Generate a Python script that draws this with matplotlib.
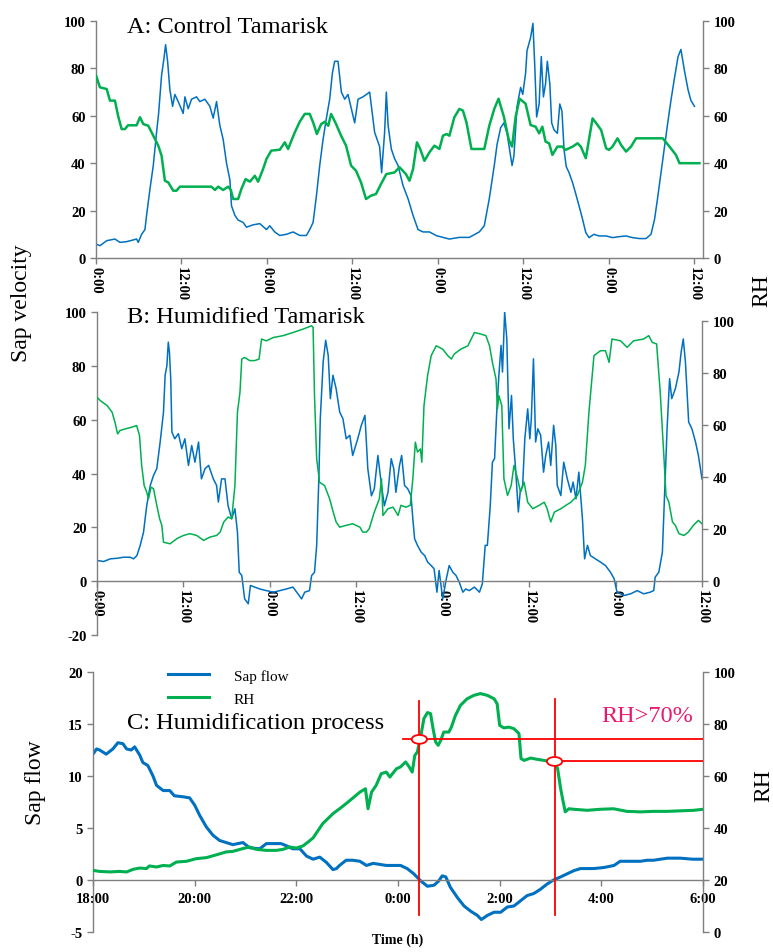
import matplotlib
matplotlib.use('Agg')
import matplotlib.pyplot as plt
from matplotlib.patches import Ellipse
import numpy as np

plt.rcParams['font.family'] = ['Liberation Serif', 'DejaVu Serif']
plt.rcParams['font.weight'] = 'bold'
plt.rcParams['axes.unicode_minus'] = False

# Panel A: control tamarisk, hours from the first midnight
a_sap_t = [0.0, 0.56, 1.5, 2.66, 3.36, 4.3, 5.7, 5.93, 6.4, 6.87, 7.1, 7.57, 8.04, 8.5, 8.79, 9.2, 9.53, 9.77,
           10.05, 10.37, 10.75, 11.07, 11.54, 12.24, 12.48, 12.94, 13.41, 14.11, 14.58, 15.28, 15.98, 16.45,
           16.92, 17.38, 17.85, 18.32, 18.79, 19.02, 19.49, 19.95, 20.65, 21.12, 22.06, 22.99, 23.93, 24.39,
           25.09, 25.79, 26.73, 27.66, 28.6, 29.53, 30.0, 30.47, 30.93, 31.4, 31.87, 32.34, 32.8, 33.18, 33.5,
           33.97, 34.44, 34.91, 35.37, 35.84, 36.31, 36.78, 37.48, 38.41, 39.11, 39.81, 40.09, 40.51, 40.75,
           41.0, 41.45, 41.9, 42.4, 43.1, 43.8, 44.5, 45.2, 45.9, 46.8, 47.8, 48.7, 49.6, 51.0, 52.4, 53.8,
           54.5, 55.2, 55.9, 56.3, 56.8, 57.25, 57.7, 58.2, 58.4, 58.66, 59.1, 59.6, 59.9, 60.3, 60.5, 61.0,
           61.33, 61.6, 61.85, 62.2, 62.5, 62.8, 63.1, 63.35, 63.7, 63.96, 64.3, 64.76, 65.1, 65.4, 65.7, 66.0,
           66.4, 66.9, 67.3, 67.8, 68.3, 68.75, 69.2, 69.9, 70.6, 71.6, 72.5, 73.4, 74.4, 75.3, 76.3, 77.2,
           77.9, 78.4, 78.8, 79.3, 79.8, 80.25, 80.7, 81.2, 81.7, 82.1, 82.6, 83.1, 83.5, 84.0]
a_sap = [5.9, 5.2, 7.3, 8, 6.6, 6.9, 8, 6.6, 10, 12, 18, 29, 39, 53, 61, 77, 84, 90,
         83, 71, 64, 69, 66, 61, 68, 63, 67, 68, 66, 67, 64, 59,
         66, 56, 50, 40, 33, 22, 18, 16, 15, 13, 14, 14.5, 12, 13.6,
         11, 9.5, 10, 11, 9.5, 9.5, 12, 15, 26, 39, 50, 59, 67, 78, 83,
         83, 70, 67, 69, 63, 57, 67, 68, 70, 53, 47, 36, 53, 70,
         56, 46, 42, 39, 30.5, 25, 18, 12, 11, 11, 9.4, 8.7, 8, 8.7, 8.7, 11,
         13.6, 25, 39, 48, 55, 57, 52.6, 43, 39, 43, 64, 72, 69, 78, 87.5, 93,
         99, 80, 59.5, 65, 85, 68, 73.5, 83, 73.5, 57, 54, 52.6, 65, 62, 45.6, 38.6,
         36, 31.7, 27.5, 22, 16.3, 10.7, 8.6, 10, 9.3, 9.3, 8.6, 9, 9.3, 8.6, 8.2, 8.2,
         10, 16.3, 24.7, 36, 47, 57, 66.5, 76, 85, 88, 79, 71, 66.5, 64]
a_rh_t = [0, 0.56, 1.5, 1.96, 2.66, 3.1, 3.6, 4.07, 4.5, 5.7, 6.17, 6.64, 7.34, 8.04, 8.74, 9.2, 9.67, 10.14,
          10.84, 11.3, 11.78, 16.2, 16.7, 17.15, 17.85, 18.55, 18.93, 19.25, 19.95, 20.4, 21.0, 21.6, 22.3,
          22.75, 23.46, 23.93, 24.6, 25.8, 26.5, 26.96, 27.9, 28.6, 29.3, 30.0, 30.5, 31.0, 31.6, 32.1, 32.6,
          33.0, 33.7, 34.4, 35.1, 35.8, 36.5, 37.2, 37.9, 38.6, 39.3, 40.0, 40.75, 41.9, 42.6, 43.5, 44.0,
          44.5, 45.05, 45.5, 46.1, 46.8, 47.5, 48.2, 48.7, 49.2, 49.6, 50.3, 51.0, 51.5, 52.0, 52.7, 54.5,
          55.2, 55.9, 56.5, 57.25, 57.95, 58.4, 58.9, 59.46, 60.3, 61.0, 61.7, 62.2, 62.65, 63.1, 63.6, 64.06,
          64.76, 65.46, 65.9, 66.9, 67.6, 68.05, 68.75, 69.7, 70.4, 70.9, 71.6, 72.0, 72.5, 73.2, 73.7, 74.4,
          75.1, 75.8, 79.55, 80.5, 81.4, 81.9, 82.4, 84.7]
a_rh = [77, 72, 71.3, 66.4, 66.4, 60, 54.4, 54.4, 56, 56, 59.4, 56.5, 55.8, 51.6, 47.4, 43.2, 32.6, 31.9,
        28.4, 28.4, 30.1, 30.1, 28.7, 30.1, 28.7, 30.1, 28.7, 24.9, 24.9, 29.1, 33.3, 32.2, 34.7,
        32.2, 37.6, 41.8, 45.3, 45.7, 48.8, 46, 53, 57.5, 60.8, 60.8, 57, 52.3, 56.5, 57.5, 55.8,
        60.8, 56.5, 51.6, 47.4, 39, 36.8, 31.9, 24.9, 26.3, 27, 31.2, 35.4, 36.1, 38.3, 35.4, 32.6,
        37.5, 48.8, 46, 41, 44.6, 47.4, 46, 51.6, 52.3, 51.6, 59.4, 62.9, 62.2, 57.2, 46, 46,
        55.8, 62.9, 67.2, 59.6, 49.8, 47, 59.6, 67.2, 65.1, 56.1, 55.4, 52.6, 55.4, 49.1, 48.4, 43.5,
        47, 47, 45.6, 47, 48.4, 47, 42.1, 58.9, 56.1, 54, 46.3, 45.6, 47, 50.5, 47.7, 44.9,
        47, 50.5, 50.5, 47, 43.5, 40, 40, 40]

# Panel B: humidified tamarisk
b_sap_t = [0, 0.92, 1.85, 2.77, 3.7, 4.6, 5.08, 5.54, 6.0, 6.46, 6.9, 7.4, 7.85, 8.3, 8.77, 9.23, 9.46, 9.7,
           9.9, 10.06, 10.24, 10.4, 10.8, 11.3, 11.77, 12.2, 12.7, 13.15, 13.6, 14.1, 14.5, 15.0, 15.5,
           16.15, 16.6, 16.85, 17.3, 17.77, 18.2, 18.7, 19.15, 19.5, 19.75, 20.1, 20.5, 21.0, 21.3, 21.9,
           22.6, 23.5, 24.5, 25.4, 26.3, 27.2, 27.9, 28.4, 28.84, 29.5, 29.8, 30.2, 30.5, 30.8, 31.0, 31.4,
           31.75, 32.1, 32.4, 32.76, 33.2, 33.7, 34.15, 34.6, 35.1, 35.5, 36.2, 36.7, 37.2, 37.6, 38.1,
           38.5, 39.0, 39.5, 39.9, 40.4, 40.85, 41.2, 41.5, 42.0, 42.3, 42.7, 43.15, 43.6, 43.85, 44.1,
           44.5, 45.0, 45.5, 45.9, 46.4, 46.8, 47.2, 47.5, 48.0, 48.5, 48.9, 49.4, 49.85, 50.3, 50.8, 51.2,
           51.7, 52.4, 53.1, 53.5, 53.9, 54.2, 54.6, 54.9, 55.2, 55.5, 55.8, 56.1, 56.3, 56.6, 56.9, 57.2,
           57.55, 57.8, 58.15, 58.5, 58.75, 59.1, 59.4, 59.8, 60.1, 60.3, 60.6, 60.9, 61.2, 61.6, 62.0,
           62.3, 62.7, 63.0, 63.4, 63.7, 63.9, 64.4, 64.8, 65.3, 65.8, 66.1, 66.5, 66.9, 67.4, 67.7, 68.1,
           68.5, 69.2, 69.9, 70.6, 71.3, 71.8, 72.2, 73.2, 74.1, 75.0, 75.9, 76.8, 77.3, 77.5, 78.0, 78.5,
           78.8, 79.15, 79.5, 79.8, 80.3, 80.8, 81.1, 81.4, 81.7, 82.15, 82.6, 83.1, 83.5, 84.0]
b_sap = [7.7, 7.3, 8.3, 8.5, 8.9, 8.9, 8.3, 9.5, 13.3, 18.2, 28, 35.6, 39.3, 41.8, 51.7, 62.8, 76.5, 80,
         88.8, 85, 75, 55.4, 52.9, 54.8, 49.2, 52.9, 43, 50.4, 44.2, 51.7, 38, 41.8, 43,
         38, 35.6, 29.4, 38, 38, 28, 23.2, 26.9, 18.2, 3.3, 2.1, -6.6, -8.4, -1.6, -2.2,
         -2.9, -3.5, -4.1, -3.5, -2.9, -2.2, -4.7, -6.6, -4.1, -3.5, 2.1, 3.3, 13.3, 38, 60.3, 81.4,
         89.5, 83.9, 67.8, 76.5, 71.5, 62.8, 60.3, 52.9, 54.2, 46.7, 52.9, 57.9, 61.6, 41.8, 31.7,
         34.3, 46.7, 35.6, 28, 33, 45.5, 41.8, 33, 43, 46.7, 35.6, 34.3, 31.8, 23.2, 15.7,
         13.3, 10.8, 9.5, 7.1, 5.8, 4.6, -4.1, 4, -6.6, 0.9, 5.8, 3.3, 2.1, -0.4, -4.1, -2.9,
         -3.5, -2.2, -4.1, -1, 13.3, 13.3, 28, 44.2, 45.5, 62.8, 76.5, 87.6, 77.7, 100, 90, 56.6,
         69, 52.9, 40.5, 25.7, 33, 35.6, 52.9, 64, 52.9, 60.3, 82.6, 51.7, 56.6, 54.2, 40.5,
         46.7, 51.7, 43, 57.9, 50.4, 35.6, 31.8, 44.2, 38, 33, 36.8, 30.6, 40.5, 23.2, 8.3, 13.3,
         9.5, 8.3, 7.1, 5.8, 3.3, 0.9, -4.1, -5.3, -4.7, -3.5, -4.7, -4.1, -3.5, 1.5, 3.3, 10.8,
         31.8, 56.6, 75.2, 67.8, 71.5, 77.7, 85, 90, 81.4, 59.1, 56.6, 51.7, 46.7, 38]
b_rh_t = [0, 0.46, 1.4, 2.1, 2.5, 2.86, 3.2, 3.9, 4.85, 5.5, 5.9, 6.2, 6.55, 6.9, 7.15, 7.5, 7.85, 8.3, 8.7,
          9.0, 9.23, 10.15, 11.1, 12.0, 12.9, 13.85, 14.8, 15.7, 16.6, 17.1, 17.6, 18.2, 18.7, 19.15, 19.5,
          19.85, 20.1, 20.5, 21.2, 21.9, 22.5, 22.85, 23.5, 24.5, 25.85, 27.2, 28.6, 29.8, 30.0, 30.2, 30.5,
          30.9, 31.6, 32.3, 32.8, 33.2, 33.7, 34.6, 35.5, 36.5, 36.9, 37.4, 37.8, 38.5, 39.2, 39.5, 39.7,
          40.4, 41.1, 41.8, 42.2, 42.9, 43.5, 43.85, 44.2, 44.5, 44.9, 45.1, 45.4, 45.9, 46.4, 47.1, 48.0,
          48.7, 49.2, 49.6, 50.5, 51.5, 52.4, 53.3, 54.0, 54.5, 54.9, 55.4, 55.6, 55.8, 56.2, 56.5, 57.0,
          57.5, 57.9, 58.4, 58.8, 59.3, 59.8, 60.5, 61.4, 62.1, 62.5, 63.0, 63.5, 64.4, 65.1, 65.8, 66.7,
          67.4, 67.8, 68.3, 69.0, 69.9, 70.6, 71.1, 71.5, 72.7, 73.6, 74.5, 75.9, 76.6, 77.1, 77.7, 78.2,
          78.7, 79.0, 79.4, 79.9, 80.3, 80.8, 81.5, 82.1, 82.8, 83.5, 84.0]
b_rh = [70.7, 69.4, 67.5, 64.9, 61, 56.6, 57.9, 58.5, 59.2, 59.8, 56, 44.5, 36.7, 34.2, 31.6, 36.1, 35.5, 29.1, 23.9,
        21.4, 14.9, 14.3, 16.3, 17.5, 18.2, 17.5, 15.6, 16.9, 17.5, 18.8, 22.7, 24.6, 23.9, 36.7, 64.9,
        72.6, 85.4, 86, 84.8, 84.8, 85.4, 93.1, 92.4, 93.7, 94.4, 95.6, 96.9, 98.2, 97.6, 71.3, 47,
        38, 36.7, 31.6, 26.5, 22.7, 20.7, 21.4, 22, 20.7, 18.8, 18.8, 20.1, 26.5, 31.6, 39.3, 25.2,
        27.8, 28.4, 25.2, 29.1, 28.4, 29.1, 39.3, 53.4, 49.6, 50.8, 45.7, 67.5, 79, 86.7, 90.5, 89.2,
        86.7, 85.4, 87.3, 89.2, 90.5, 95.6, 95, 94.4, 90.5, 84.1, 77.7, 66.2, 71.3, 67.5, 39.3, 32.9,
        36.7, 44.5, 39.3, 34.2, 38, 30.3, 27.8, 29.1, 30.3, 27.8, 22.7, 26.5, 27.8, 29.1, 30.3, 32.9,
        38, 44.5, 64.9, 86.7, 88.6, 88.6, 84.1, 93.1, 92.4, 89.9, 92.4, 93.1, 94.4, 91.8, 91.2, 72.6,
        48.3, 32.9, 30.3, 22.7, 21.4, 18.2, 17.5, 18.8, 21.4, 23.3, 22]

# Panel C: humidification night, hours after 18:00
c_sap_t = [0, 0.07, 0.13, 0.26, 0.39, 0.49, 0.59, 0.66, 0.75, 0.82, 0.92, 0.98, 1.08, 1.18, 1.25, 1.38, 1.51,
           1.6, 1.77, 1.9, 2.0, 2.1, 2.23, 2.36, 2.49, 2.62, 2.75, 2.95, 3.08, 3.28, 3.41, 3.54, 3.7, 3.8,
           3.93, 4.07, 4.2, 4.33, 4.46, 4.59, 4.72, 4.79, 4.85, 4.98, 5.11, 5.25, 5.38, 5.51, 5.64, 5.77,
           5.9, 6.05, 6.18, 6.31, 6.45, 6.58, 6.71, 6.8, 6.87, 6.94, 7.03, 7.17, 7.3, 7.43, 7.56, 7.64,
           7.76, 7.89, 8.02, 8.15, 8.28, 8.41, 8.54, 8.67, 8.8, 8.93, 9.06, 9.2, 9.33, 9.46, 9.59, 9.85,
           10.05, 10.25, 10.37, 10.77, 10.9, 11.03, 11.16, 11.3, 11.55, 11.8, 12.0]
c_sap = [12.1, 12.6, 12.5, 12.1, 12.6, 13.2, 13.1, 12.6, 12.5, 12.8, 12.0, 11.3, 11.0, 10.0, 9.1, 8.6, 8.6,
         8.1, 8.0, 7.9, 7.2, 6.2, 5.1, 4.3, 3.8, 3.6, 3.4, 3.6, 3.1, 3.0, 3.5, 3.5, 3.5, 3.3,
         3.0, 3.0, 2.3, 2.0, 2.2, 1.7, 1.0, 1.1, 1.4, 1.9, 1.9, 1.8, 1.4, 1.6, 1.5, 1.4,
         1.4, 1.4, 1.1, 0.6, -0.1, -0.6, -0.5, -0.1, 0.4, 0.3, -0.7, -1.7, -2.5, -3.0, -3.4, -3.8,
         -3.4, -3.1, -3.1, -2.6, -2.5, -2.0, -1.5, -1.3, -0.9, -0.4, 0.0, 0.3, 0.6, 0.9, 1.1, 1.1,
         1.2, 1.4, 1.8, 1.8, 1.9, 1.9, 2.0, 2.1, 2.1, 2.0, 2.0]
c_rh_t = [0, 0.13, 0.33, 0.52, 0.66, 0.79, 0.92, 1.05, 1.11, 1.25, 1.38, 1.51, 1.64, 1.84, 2.03, 2.23, 2.43,
          2.62, 2.75, 2.95, 3.08, 3.21, 3.41, 3.61, 3.74, 3.87, 4.0, 4.13, 4.23, 4.33, 4.43, 4.52, 4.62,
          4.72, 4.85, 4.98, 5.11, 5.25, 5.36, 5.41, 5.48, 5.57, 5.67, 5.77, 5.84, 5.97, 6.05, 6.15, 6.22,
          6.28, 6.33, 6.38, 6.45, 6.51, 6.58, 6.64, 6.69, 6.74, 6.79, 6.84, 6.9, 7.0, 7.05, 7.13, 7.23,
          7.36, 7.49, 7.62, 7.76, 7.89, 7.95, 8.0, 8.08, 8.18, 8.28, 8.38, 8.42, 8.48, 8.61, 8.74, 8.87,
          9.0, 9.1, 9.14, 9.2, 9.25, 9.29, 9.36, 9.46, 9.72, 9.98, 10.24, 10.5, 10.77, 11.03, 11.3, 11.55,
          11.82, 12.0]
c_rh = [23.7, 23.3, 23.1, 23.3, 23.1, 24.1, 24.6, 24.4, 25.4, 25.0, 25.6, 25.4, 26.9, 27.2, 28.2, 28.6, 29.7,
        30.8, 31.0, 32.1, 32.7, 31.8, 31.4, 31.4, 31.8, 32.7, 32.3, 33.1, 34.6, 36.2, 39.1, 41.7, 43.6,
        45.5, 47.4, 49.4, 51.5, 53.8, 55.1, 47.4, 53.8, 56.4, 60.9, 61.5, 59.6, 62.8, 63.5, 65.4, 63.5,
        61.5, 67.9, 69.2, 75.6, 82.1, 84.4, 84.0, 78.2, 73.1, 71.8, 73.7, 76.9, 76.9, 78.8, 83.3, 87.2,
        89.7, 91.0, 91.7, 91.0, 89.7, 87.8, 79.5, 78.5, 78.8, 78.2, 76.3, 66.7, 66.0, 66.9, 66.4, 66.0,
        65.6, 64.7, 62.8, 55.1, 50.0, 46.2, 47.4, 47.2, 46.8, 47.2, 47.4, 46.4, 46.2, 46.4, 46.4, 46.6,
        46.8, 47.2]

# humidifier switching points marked on panel C
t_on, t_off = 6.42, 9.08
rh_on, rh_off = 74.1, 65.6

day_ticks = [0, 12, 24, 36, 48, 60, 72, 84]
day_labels = ['0:00', '12:00'] * 4
night_ticks = [0, 2, 4, 6, 8, 10, 12]
night_labels = ['18:00', '20:00', '22:00', '0:00', '2:00', '4:00', '6:00']

BLUE = '#0070C0'
GREEN = '#00B050'
AXC = '#7F7F7F'
W, H = 773, 953


def frame(ax, ax2):
    for s in ['top', 'right']:
        ax.spines[s].set_visible(False)
    for s in ['top', 'left', 'bottom']:
        ax2.spines[s].set_visible(False)
    for a in (ax, ax2):
        for s in a.spines.values():
            s.set_color(AXC)
            s.set_linewidth(1.0)
        a.tick_params(direction='out', length=4, width=1, color=AXC, labelsize=10.5, labelcolor='black')


fig = plt.figure(figsize=(W / 100, H / 100), dpi=100)

# A
axA = fig.add_axes([96 / W, 1 - 259 / H, 607 / W, 237 / H])
axA.plot(a_sap_t, a_sap, color=BLUE, lw=1.1)
axA2 = axA.twinx()
axA2.plot(a_rh_t, a_rh, color=GREEN, lw=1.8)
axA.set_xlim(0, 85.2)
axA.set_ylim(0, 100)
axA2.set_ylim(0, 100)
axA.set_yticks(np.arange(0, 101, 20))
axA2.set_yticks(np.arange(0, 101, 20))
axA.set_xticks(day_ticks)
axA.set_xticklabels(day_labels)
frame(axA, axA2)
axA.tick_params(axis='x', pad=2, labelrotation=-90)

# B
axB = fig.add_axes([97 / W, 1 - 636 / H, 605 / W, 323 / H])
axB.plot(b_sap_t, b_sap, color=BLUE, lw=1.1)
axB2 = axB.twinx()
axB2.plot(b_rh_t, b_rh, color=GREEN, lw=1.1)
axB.set_xlim(0, 84)
axB.set_ylim(-20, 100)
axB2.set_ylim(-20.8, 103.5)
axB.set_yticks(np.arange(-20, 101, 20))
axB2.set_yticks(np.arange(0, 101, 20))
axB2.spines['right'].set_bounds(0, 100)
frame(axB, axB2)
axB.spines['bottom'].set_position(('data', 0))
axB.set_xticks(day_ticks)
axB.set_xticklabels(day_labels)
axB.tick_params(axis='x', direction='out', length=4, width=1, color=AXC, labelsize=10.5,
                pad=2, labelrotation=-90)

# C
axC = fig.add_axes([93 / W, 1 - 933 / H, 610 / W, 260 / H])
sap_line, = axC.plot(c_sap_t, c_sap, color=BLUE, lw=2.2)
axC2 = axC.twinx()
rh_line, = axC2.plot(c_rh_t, c_rh, color=GREEN, lw=2.2)
axC.set_xlim(0, 12)
axC.set_ylim(-5, 20)
axC2.set_ylim(0, 100)
axC.set_yticks(np.arange(-5, 21, 5))
axC2.set_yticks(np.arange(0, 101, 20))
frame(axC, axC2)
axC.spines['bottom'].set_position(('data', 0))
axC.set_xticks(night_ticks)
axC.set_xticklabels(night_labels)
axC.tick_params(axis='x', direction='out', length=4, width=1, color=AXC, labelsize=10.5, pad=5)

red = '#FF0000'
axC2.plot([t_on, t_on], [6.5, 88.8], color=red, lw=1.3, zorder=4)
axC2.plot([t_off, t_off], [6.5, 89.5], color=red, lw=1.3, zorder=4)
axC2.plot([6.1, 12], [rh_on, rh_on], color=red, lw=1.3, zorder=4)
axC2.plot([t_off, 12], [rh_off, rh_off], color=red, lw=1.3, zorder=4)
for tx, ry in [(t_on, rh_on), (t_off, rh_off)]:
    axC2.add_patch(Ellipse((tx, ry), 0.3, 3.4, facecolor='white', edgecolor=red, lw=1.3, zorder=5))
axC2.text(11.8, 81.2, 'RH>70%', color='#E8196E', fontsize=17.5, fontweight='normal',
          ha='right', va='baseline')

fig.legend([sap_line, rh_line], ['Sap flow', 'RH'], loc='upper left',
           bbox_to_anchor=(168 / W, 1 - 670 / H), frameon=False, prop={'size': 11, 'weight': 'normal'},
           handlelength=2.7, handletextpad=1.6, labelspacing=0.6, borderpad=0, borderaxespad=0)

# panel titles and axis labels
title_kw = dict(fontsize=17.6, fontweight='normal', ha='left', va='baseline')
fig.text(127 / W, 1 - 33 / H, 'A: Control Tamarisk', **title_kw)
fig.text(127 / W, 1 - 323 / H, 'B: Humidified Tamarisk', **title_kw)
fig.text(127 / W, 1 - 729 / H, 'C: Humidification process', **title_kw)

lab_kw = dict(fontsize=17, fontweight='normal', rotation=90, ha='center', va='center')
fig.text(22 / W, 1 - 303 / H, 'Sap velocity', **lab_kw)
fig.text(762 / W, 1 - 291 / H, 'RH', **lab_kw)
fig.text(35 / W, 1 - 783 / H, 'Sap flow', **lab_kw)
fig.text(764 / W, 1 - 786 / H, 'RH', **lab_kw)
fig.text(398 / W, 1 - 940 / H, 'Time (h)', fontsize=10, ha='center', va='center')

fig.savefig('out.png', dpi=100)
